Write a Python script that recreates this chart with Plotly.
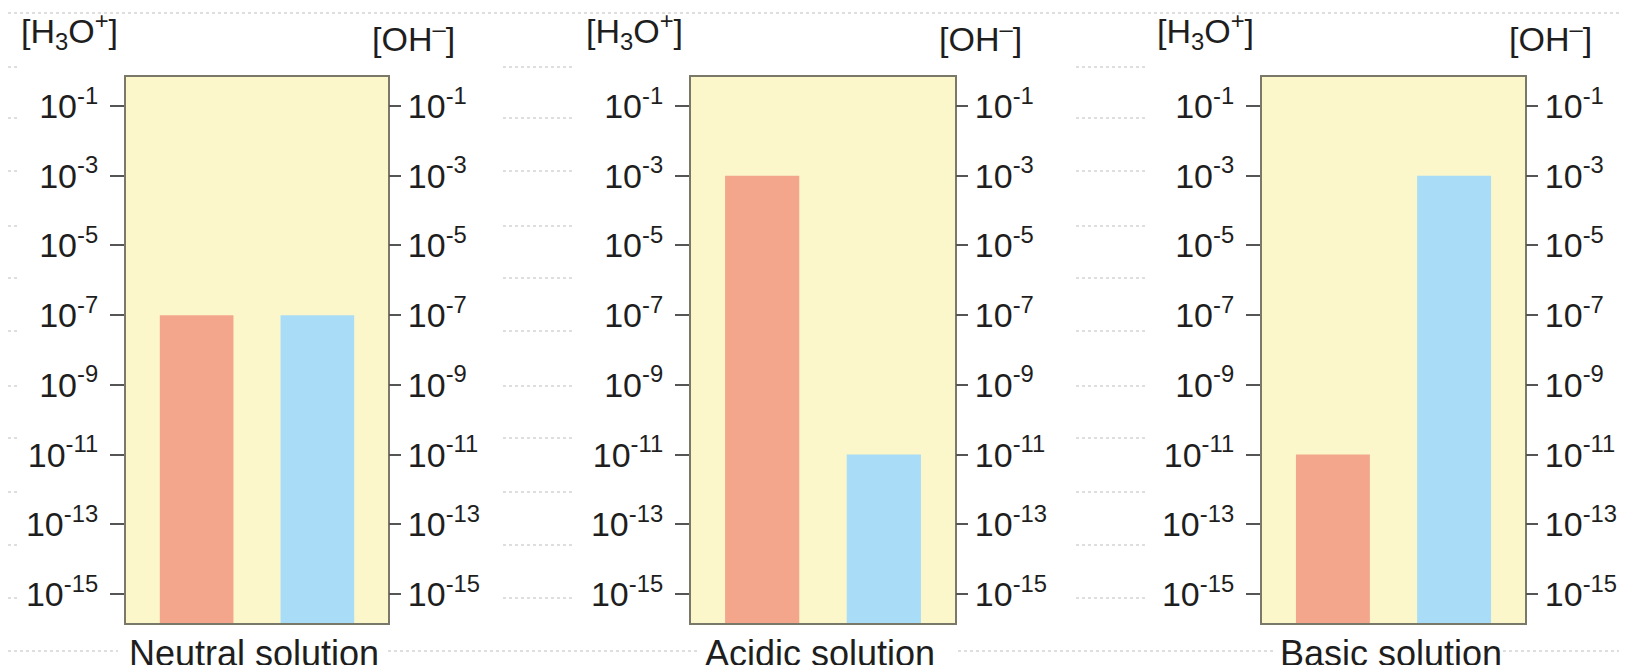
import plotly.graph_objects as go

# ---- data ----
panels = ["Neutral solution", "Acidic solution", "Basic solution"]
species = ["[H3O+]", "[OH-]"]
h3o_values = [1e-7, 1e-3, 1e-11]
oh_values = [1e-7, 1e-11, 1e-3]
tick_exponents = [-1, -3, -5, -7, -9, -11, -13, -15]

# ---- layout constants (pixels) ----
W, H = 1627, 665
panel_px = [(118, 380), (683, 947), (1254, 1517)]
top_px, bot_px = 69, 615

def px(x):
    return x / W

def py(y):
    return 1 - y / H

FONT = "Liberation Sans, Arial, Helvetica, sans-serif"
RED = "#F4A68C"
BLUE = "#A9DCF6"
BG = "#FBF7CB"
EDGE = "#7a7868"
TXT = "#1e1e1e"

tickvals = [10.0 ** e for e in tick_exponents]
ticktext = ["10<sup>%d</sup>" % e for e in tick_exponents]

fig = go.Figure()
layout = dict(
    width=W, height=H,
    margin=dict(l=0, r=0, t=0, b=0),
    paper_bgcolor="white",
    plot_bgcolor=BG,
    showlegend=False,
    barmode="overlay",
    font=dict(family=FONT, color=TXT),
    annotations=[],
    shapes=[],
)

yrange = [-15.83, -0.17]

for i, name in enumerate(panels):
    n = i + 1
    xa = "x" if n == 1 else "x%d" % n
    yl = 2 * n - 1
    yr = 2 * n
    yla = "y" if yl == 1 else "y%d" % yl
    yra = "y%d" % yr
    x0, x1 = panel_px[i]

    fig.add_trace(go.Bar(x=[species[0]], y=[h3o_values[i]], width=0.61,
                         marker=dict(color=RED, line=dict(width=0)),
                         xaxis=xa, yaxis=yla, hoverinfo="skip"))
    fig.add_trace(go.Bar(x=[species[1]], y=[oh_values[i]], width=0.61,
                         marker=dict(color=BLUE, line=dict(width=0)),
                         xaxis=xa, yaxis=yra, hoverinfo="skip"))

    layout["xaxis" if n == 1 else "xaxis%d" % n] = dict(
        domain=[px(x0), px(x1)], anchor=yla,
        type="category", categoryorder="array", categoryarray=species,
        range=[-0.585, 1.585], showticklabels=False, ticks="",
        showgrid=False, zeroline=False,
        showline=True, mirror=True, linecolor=EDGE, linewidth=2,
        automargin=False, fixedrange=True,
    )
    common_y = dict(
        type="log", range=yrange, domain=[py(bot_px), py(top_px)],
        tickvals=tickvals, ticktext=ticktext, tickmode="array",
        ticks="outside", tickwidth=2, tickcolor="#555555",
        tickfont=dict(family=FONT, size=34, color=TXT),
        showgrid=False, zeroline=False, automargin=False, fixedrange=True,
    )
    layout["yaxis" if yl == 1 else "yaxis%d" % yl] = dict(
        common_y, anchor=xa, side="left", ticklen=14, ticklabelstandoff=5,
        showline=True, mirror=True, linecolor=EDGE, linewidth=2,
    )
    layout["yaxis%d" % yr] = dict(
        common_y, anchor=xa, side="right", overlaying=yla, showline=False,
        ticklen=12, ticklabelstandoff=0,
    )

    # axis titles
    layout["annotations"].append(dict(
        text="[H<sub>3</sub>O<sup>+</sup>]", xref="paper", yref="paper",
        x=px(x0 - 6), y=py(23), xanchor="right", yanchor="middle",
        showarrow=False, font=dict(family=FONT, size=34, color=TXT)))
    layout["annotations"].append(dict(
        text="[OH<sup>\u2013</sup>]", xref="paper", yref="paper",
        x=px(x1 - 18), y=py(28), xanchor="left", yanchor="middle",
        showarrow=False, font=dict(family=FONT, size=34, color=TXT)))
    # panel label
    layout["annotations"].append(dict(
        text=name, xref="paper", yref="paper",
        x=px((x0 + x1) / 2 - 3), y=py(645), xanchor="center", yanchor="middle",
        showarrow=False, font=dict(family=FONT, size=36, color=TXT)))

# faint dotted ruled lines of the source page (background decoration)
rule_rows = [59, 110, 163, 218, 270, 323, 378, 430, 484, 537, 590]
gaps = [(0, 12), (495, 566), (1068, 1140), (1614, 1627)]
for yy in rule_rows:
    for a, b in gaps:
        layout["shapes"].append(dict(
            type="line", xref="paper", yref="paper", layer="below",
            x0=px(a), x1=px(b), y0=py(yy), y1=py(yy),
            line=dict(color="#d4d4d4", width=1.5, dash="dot")))
layout["shapes"].append(dict(
    type="line", xref="paper", yref="paper", layer="below",
    x0=0, x1=1, y0=py(5), y1=py(5),
    line=dict(color="#d4d4d4", width=1.5, dash="dot")))
for a, b in [(0, 110), (380, 690), (950, 1265), (1495, 1627)]:
    layout["shapes"].append(dict(
        type="line", xref="paper", yref="paper", layer="below",
        x0=px(a), x1=px(b), y0=py(643), y1=py(643),
        line=dict(color="#d4d4d4", width=1.5, dash="dot")))

fig.update_layout(**layout)
fig.write_html("out.html", config={"displayModeBar": False})
